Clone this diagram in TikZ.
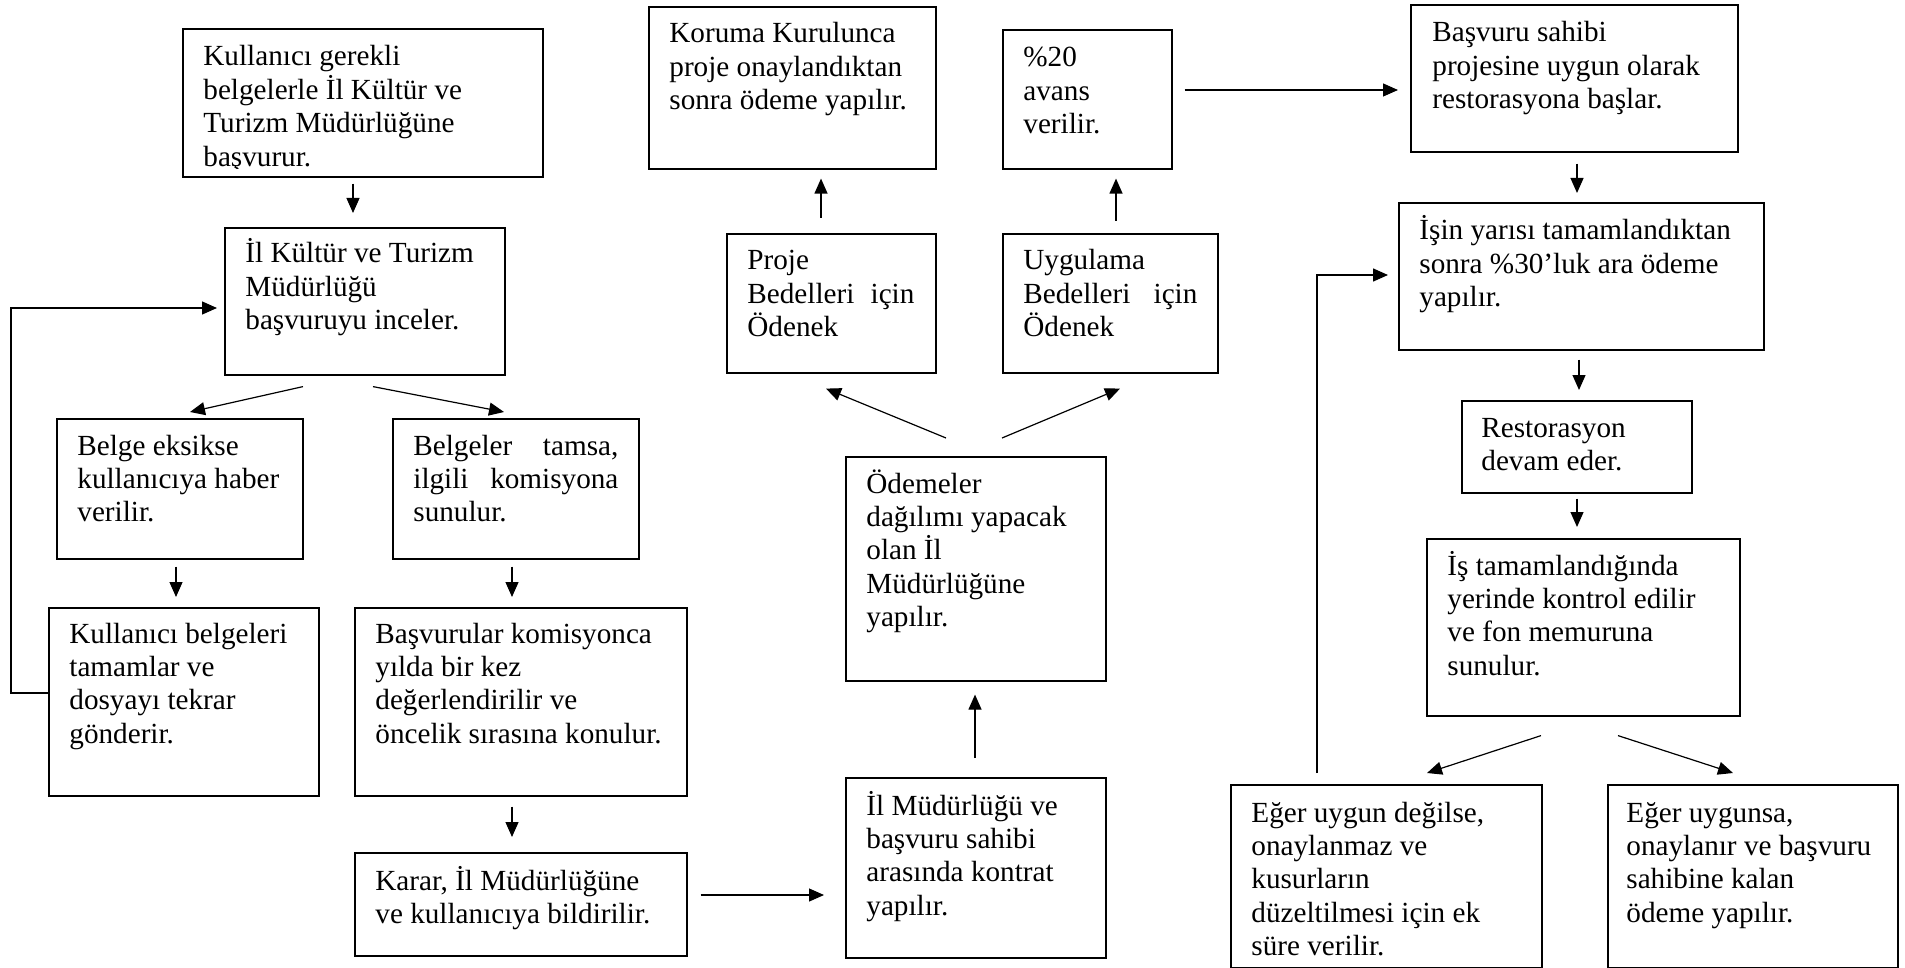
\documentclass[tikz,border=0pt]{standalone}
\usepackage{fontspec}
\setmainfont{Liberation Serif}
\usetikzlibrary{arrows.meta}
\newcommand{\tbox}[2]{\parbox[t]{#1}{\raggedright #2}}
\tikzset{
  box/.style={draw, line width=0.8pt, rectangle, anchor=north west, inner sep=0pt},
  txt/.style={anchor=base west, inner sep=0pt, font=\fontsize{14.6pt}{16.7pt}\selectfont},
  arr/.style={line width=0.6pt, -{Triangle[length=7.5pt,width=6.5pt]}},
}
\begin{document}
\begin{tikzpicture}[x=0.5pt, y=-0.5pt]
\useasboundingbox (0,0) rectangle (1905,968);

% boxes
\node[box, minimum width=180pt, minimum height=74pt]   (A) at (182,28) {};
\node[box, minimum width=140pt, minimum height=73.5pt] (B) at (224,227) {};
\node[box, minimum width=123pt, minimum height=70pt]   (C) at (56,418) {};
\node[box, minimum width=123pt, minimum height=70pt]   (D) at (392,418) {};
\node[box, minimum width=135pt, minimum height=94pt]   (E) at (48,607) {};
\node[box, minimum width=166pt, minimum height=94pt]   (F) at (354,607) {};
\node[box, minimum width=166pt, minimum height=51.5pt] (G) at (354,852) {};
\node[box, minimum width=130pt, minimum height=90pt]   (H) at (845,777) {};
\node[box, minimum width=130pt, minimum height=112pt]  (I) at (845,456) {};
\node[box, minimum width=143.5pt, minimum height=81pt] (J) at (648,6) {};
\node[box, minimum width=84.5pt, minimum height=69.5pt] (K) at (1002,29) {};
\node[box, minimum width=104.5pt, minimum height=69.5pt] (M) at (726,233) {};
\node[box, minimum width=107.5pt, minimum height=69.5pt] (N) at (1002,233) {};
\node[box, minimum width=163.5pt, minimum height=73.5pt] (L) at (1410,4) {};
\node[box, minimum width=182.5pt, minimum height=73.5pt] (P) at (1398,202) {};
\node[box, minimum width=115pt, minimum height=46pt]   (Q) at (1461,400) {};
\node[box, minimum width=156.5pt, minimum height=88.5pt] (R) at (1426,538) {};
\node[box, minimum width=155.5pt, minimum height=91.5pt] (S) at (1230,784) {};
\node[box, minimum width=145pt, minimum height=91.5pt] (T) at (1607,784) {};

% texts
\begin{scope}
\clip (A.north west) rectangle ([shift={(0,-9)}]A.south east);
\node[txt] (At) at ([shift={(21,38)}]A.north west) {\tbox{300pt}{Kullanıcı gerekli\\belgelerle İl Kültür ve\\Turizm Müdürlüğüne\\başvurur.}};
\end{scope}
\node[txt] (Bt) at ([shift={(21,36)}]B.north west) {\tbox{300pt}{İl Kültür ve Turizm\\Müdürlüğü\\başvuruyu inceler.}};
\node[txt] (Ct) at ([shift={(21,37)}]C.north west) {\tbox{300pt}{Belge eksikse\\kullanıcıya haber\\verilir.}};
\node[txt] (Dt) at ([shift={(21,37)}]D.north west) {\tbox{102.5pt}{Belgeler\hfill tamsa,\\ilgili\hfill komisyona\\sunulur.}};
\node[txt] (Et) at ([shift={(21,36)}]E.north west) {\tbox{300pt}{Kullanıcı belgeleri\\tamamlar ve\\dosyayı tekrar\\gönderir.}};
\node[txt] (Ft) at ([shift={(21,36)}]F.north west) {\tbox{300pt}{Başvurular komisyonca\\yılda bir kez\\değerlendirilir ve\\öncelik sırasına konulur.}};
\node[txt] (Gt) at ([shift={(21,38)}]G.north west) {\tbox{300pt}{Karar, İl Müdürlüğüne\\ve kullanıcıya bildirilir.}};
\node[txt] (Ht) at ([shift={(21,38)}]H.north west) {\tbox{300pt}{İl Müdürlüğü ve\\başvuru sahibi\\arasında kontrat\\yapılır.}};
\node[txt] (It) at ([shift={(21,37)}]I.north west) {\tbox{300pt}{Ödemeler\\dağılımı yapacak\\olan İl\\Müdürlüğüne\\yapılır.}};
\node[txt] (Jt) at ([shift={(21,37)}]J.north west) {\tbox{300pt}{Koruma Kurulunca\\proje onaylandıktan\\sonra ödeme yapılır.}};
\node[txt] (Kt) at ([shift={(21,38)}]K.north west) {\tbox{300pt}{\%20\\avans\\verilir.}};
\node[txt] (Mt) at ([shift={(21,37)}]M.north west) {\tbox{83.5pt}{Proje\\Bedelleri\hfill için\\Ödenek}};
\node[txt] (Nt) at ([shift={(21,37)}]N.north west) {\tbox{87pt}{Uygulama\\Bedelleri\hfill için\\Ödenek}};
\node[txt] (Lt) at ([shift={(22,38)}]L.north west) {\tbox{300pt}{Başvuru sahibi\\projesine uygun olarak\\restorasyona başlar.}};
\node[txt] (Pt) at ([shift={(21,38)}]P.north west) {\tbox{300pt}{İşin yarısı tamamlandıktan\\sonra \%30’luk ara ödeme\\yapılır.}};
\node[txt] (Qt) at ([shift={(20,37)}]Q.north west) {\tbox{300pt}{Restorasyon\\devam eder.}};
\node[txt] (Rt) at ([shift={(21,37)}]R.north west) {\tbox{300pt}{İş tamamlandığında\\yerinde kontrol edilir\\ve fon memuruna\\sunulur.}};
\node[txt] (St) at ([shift={(21,38)}]S.north west) {\tbox{300pt}{Eğer uygun değilse,\\onaylanmaz ve\\kusurların\\düzeltilmesi için ek\\süre verilir.}};
\node[txt] (Tt) at ([shift={(19,38)}]T.north west) {\tbox{300pt}{Eğer uygunsa,\\onaylanır ve başvuru\\sahibine kalan\\ödeme yapılır.}};

% connectors
\draw[arr] ([shift={(171,6)}]A.south west) -- ([shift={(129,-14)}]B.north west);
\draw[arr] ([shift={(79,11)}]B.south west) -- ([shift={(134,-6)}]C.north west);
\draw[arr] ([shift={(149,11)}]B.south west) -- ([shift={(112,-6)}]D.north west);
\draw[arr] ([shift={(120,7)}]C.south west) -- ([shift={(128,-10)}]E.north west);
\draw[arr] ([shift={(120,7)}]D.south west) -- ([shift={(158,-10)}]F.north west);
\draw[arr] ([shift={(158,10)}]F.south west) -- ([shift={(158,-15)}]G.north west);
\draw[arr, line width=0.7pt] ([shift={(0,86)}]E.north west) -- ++(-37,0) |- ([shift={(-7,81)}]B.north west);
\draw[arr] ([shift={(13,43)}]G.north east) -- ([shift={(-21,118)}]H.north west);
\draw[arr] ([shift={(130,-19)}]H.north west) -- ([shift={(130,13)}]I.south west);
\draw[arr] ([shift={(101,-18)}]I.north west) -- ([shift={(100,15)}]M.south west);
\draw[arr] ([shift={(157,-18)}]I.north west) -- ([shift={(118,15)}]N.south west);
\draw[arr] ([shift={(95,-15)}]M.north west) -- ([shift={(173,9)}]J.south west);
\draw[arr] ([shift={(114,-12)}]N.north west) -- ([shift={(114,9)}]K.south west);
\draw[arr] ([shift={(12,61)}]K.north east) -- ([shift={(-12,86)}]L.north west);
\draw[arr] ([shift={(167,11)}]L.south west) -- ([shift={(179,-9)}]P.north west);
\draw[arr] ([shift={(181,9)}]P.south west) -- ([shift={(118,-10)}]Q.north west);
\draw[arr] ([shift={(116,5)}]Q.south west) -- ([shift={(151,-11)}]R.north west);
\draw[arr] ([shift={(115,19)}]R.south west) -- ([shift={(197,-11)}]S.north west);
\draw[arr] ([shift={(192,19)}]R.south west) -- ([shift={(126,-11)}]T.north west);
\draw[arr, line width=0.7pt] ([shift={(87,-11)}]S.north west) |- ([shift={(-10,73)}]P.north west);
\end{tikzpicture}
\end{document}
